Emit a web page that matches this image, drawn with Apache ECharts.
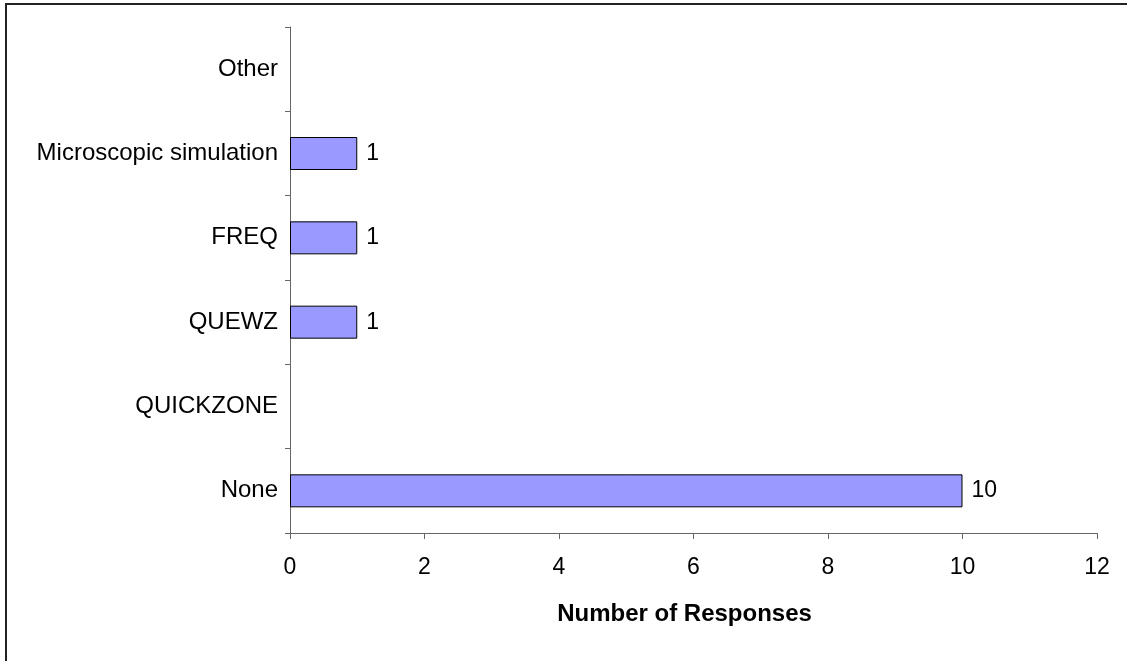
<!DOCTYPE html>
<html>
<head>
<meta charset="utf-8">
<script src="https://cdn.jsdelivr.net/npm/echarts@6/dist/echarts.min.js"></script>
<style>
  html, body { margin: 0; padding: 0; background: #fff; }
  #chart { width: 1127px; height: 661px; }
</style>
</head>
<body>
<div id="chart"></div>
<script>
// Tools used, listed bottom to top
const categories = ['None', 'QUICKZONE', 'QUEWZ', 'FREQ', 'Microscopic simulation', 'Other'];
const responses = [10, 0, 1, 1, 1, 0];
const xTicks = { min: 0, max: 12, interval: 2 };

const font = 'Liberation Sans, Arial, sans-serif';
const chart = echarts.init(document.getElementById('chart'), null, { renderer: 'canvas' });

// Empty categories get no outline so nothing is drawn for them
const barData = responses.map(v => ({
  value: v,
  itemStyle: v ? {} : { borderWidth: 0, opacity: 0 }
}));

chart.setOption({
  backgroundColor: '#fff',
  animation: false,
  graphic: [{
    type: 'rect',
    shape: { x: 6, y: 4, width: 1200, height: 700 },
    style: { fill: 'none', stroke: '#222', lineWidth: 2 },
    silent: true
  }],
  grid: { left: 290, right: 30, top: 27, bottom: 128, containLabel: false },
  xAxis: {
    type: 'value',
    min: xTicks.min,
    max: xTicks.max,
    interval: xTicks.interval,
    name: 'Number of Responses',
    nameLocation: 'middle',
    nameGap: 69,
    nameTextStyle: {
      fontFamily: font, fontSize: 24, fontWeight: 'bold', color: '#000',
      padding: [0, 18, 0, 0]
    },
    axisLine: { show: true, lineStyle: { color: '#666', width: 1 } },
    axisTick: { show: true, length: 6, lineStyle: { color: '#666' } },
    axisLabel: { fontFamily: font, fontSize: 23, color: '#000', margin: 23 },
    splitLine: { show: false }
  },
  yAxis: {
    type: 'category',
    data: categories,
    axisLine: { show: true, lineStyle: { color: '#666', width: 1 } },
    axisTick: { show: true, length: 5, lineStyle: { color: '#666' } },
    axisLabel: { fontFamily: font, fontSize: 24, color: '#000', margin: 12 }
  },
  series: [{
    type: 'bar',
    data: barData,
    barWidth: 33,
    itemStyle: { color: '#9999ff', borderColor: '#000', borderWidth: 1 },
    label: {
      show: true,
      position: 'right',
      distance: 9,
      fontFamily: font,
      fontSize: 23,
      color: '#000',
      opacity: 1,
      formatter: p => (p.value ? String(p.value) : '')
    }
  }]
});
</script>
</body>
</html>
